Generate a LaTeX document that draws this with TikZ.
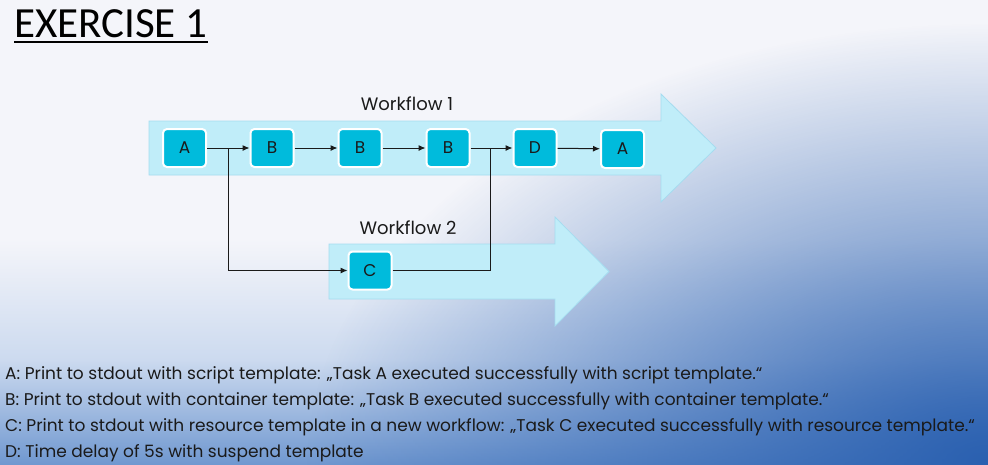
\documentclass[tikz,border=0pt]{standalone}
\usepackage{fontspec}
\setmainfont{Poppins}
\newfontfamily\titlefont{Carlito}
\usetikzlibrary{arrows.meta,fadings}
\definecolor{bgtop}{HTML}{F4F5FA}
\definecolor{bgmid}{HTML}{CCDAEF}
\definecolor{bgbot}{HTML}{7098D0}
\definecolor{bgdark}{HTML}{2A60B0}
\definecolor{bandfill}{HTML}{C0EDF9}
\definecolor{bandline}{HTML}{A5DCF0}
\definecolor{taskfill}{HTML}{00BBDC}
\definecolor{ink}{HTML}{1A1A1A}
\tikzfading[name=cornerfade, inner color=transparent!0, outer color=transparent!100]
\tikzset{
  task/.style={draw=white, line width=2pt, fill=taskfill, rounded corners=4pt,
    minimum width=43pt, minimum height=38pt, inner sep=0pt, text=ink,
    font=\fontsize{17}{20}\selectfont},
  band/.style={fill=bandfill, draw=bandline, line width=0.8pt},
  flow/.style={draw=ink, line width=1pt},
  flowarrow/.style={flow, -{Latex[length=7pt,width=6pt]}},
  wlabel/.style={text=ink, font=\fontsize{18}{21}\selectfont, inner sep=0pt},
  desc/.style={text=ink, font=\fontsize{17}{20}\selectfont, inner sep=0pt, anchor=base west}
}
\begin{document}
\begin{tikzpicture}[x=1pt,y=-1pt]
\useasboundingbox (0,0) rectangle (988,464);
\begin{scope}
  \clip (0,0) rectangle (988,464);
  \fill[bgtop] (0,0) rectangle (988,240);
  \shade[top color=bgtop, bottom color=bgmid] (0,239.5) rectangle (988,360);
  \shade[top color=bgmid, bottom color=bgbot] (0,359.5) rectangle (988,464);
  \fill[bgdark, path fading=cornerfade] (988,464) ellipse [x radius=680, y radius=440];
\end{scope}
% title
\node[anchor=base west, inner sep=0pt, text=black, font=\titlefont\fontsize{43}{50}\selectfont] (title) at (14,37) {EXERCISE 1};
\draw[black, line width=2pt] (title.base west) ++(0,5) coordinate (ul1) -- (ul1 -| title.east);
% workflow arrows
\path[band] (149,121) -- (661,121) -- (661,94) -- (716,148) -- (661,202) -- (661,175) -- (149,175) -- cycle;
\path[band] (329,244) -- (555,244) -- (555,217) -- (609,271.5) -- (555,326) -- (555,299) -- (329,299) -- cycle;
\node[wlabel] (w1) at (407,104) {Workflow 1};
\node[wlabel] (w2) at (408,228) {Workflow 2};
% tasks
\node[task] (A1) at (184.5,148) {A};
\node[task] (B1) at (272,148) {B};
\node[task] (B2) at (360,148) {B};
\node[task] (B3) at (448,148) {B};
\node[task] (D) at (535,148) {D};
\node[task] (A2) at (622.5,149) {A};
\node[task] (C) at (370,270.5) {C};
\coordinate (j1) at (228,148);
\coordinate (j2) at (490,148);
% connectors
\draw[flowarrow] (A1) -- (B1);
\draw[flowarrow] (B1) -- (B2);
\draw[flowarrow] (B2) -- (B3);
\draw[flowarrow] (B3) -- (D);
\draw[flowarrow] (D) -- (A2);
\draw[flowarrow] (j1) |- (C);
\draw[flow] (C) -| (j2);
% descriptions
\node[desc] (dA) at (5,379) {A: Print to stdout with script template: „Task A executed successfully with script template.“};
\node[desc] (dB) at (5,405) {B: Print to stdout with container template: „Task B executed successfully with container template.“};
\node[desc] (dC) at (5,431) {C: Print to stdout with resource template in a new workflow: „Task C executed successfully with resource template.“};
\node[desc] (dD) at (5,457) {D: Time delay of 5s with suspend template};
\end{tikzpicture}
\end{document}
